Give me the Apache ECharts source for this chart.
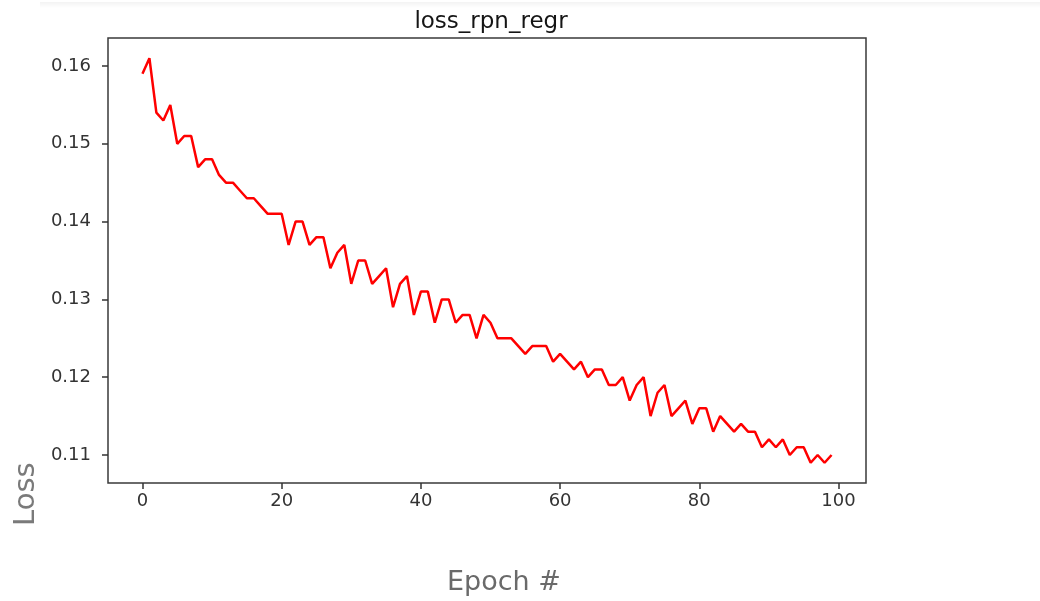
<!DOCTYPE html>
<html>
<head>
<meta charset="utf-8">
<script src="https://cdn.jsdelivr.net/npm/echarts@6/dist/echarts.min.js"></script>
<style>
html,body{margin:0;padding:0;background:#fff;}
#chart{width:1040px;height:601px;}
</style>
</head>
<body>
<div id="chart"></div>
<script>
const epochs = Array.from({length: 100}, (_, i) => i);
const lossRpnRegr = [
  0.159, 0.161, 0.154, 0.153, 0.155, 0.150, 0.151, 0.151, 0.147, 0.148,
  0.148, 0.146, 0.145, 0.145, 0.144, 0.143, 0.143, 0.142, 0.141, 0.141,
  0.141, 0.137, 0.140, 0.140, 0.137, 0.138, 0.138, 0.134, 0.136, 0.137,
  0.132, 0.135, 0.135, 0.132, 0.133, 0.134, 0.129, 0.132, 0.133, 0.128,
  0.131, 0.131, 0.127, 0.130, 0.130, 0.127, 0.128, 0.128, 0.125, 0.128,
  0.127, 0.125, 0.125, 0.125, 0.124, 0.123, 0.124, 0.124, 0.124, 0.122,
  0.123, 0.122, 0.121, 0.122, 0.120, 0.121, 0.121, 0.119, 0.119, 0.120,
  0.117, 0.119, 0.120, 0.115, 0.118, 0.119, 0.115, 0.116, 0.117, 0.114,
  0.116, 0.116, 0.113, 0.115, 0.114, 0.113, 0.114, 0.113, 0.113, 0.111,
  0.112, 0.111, 0.112, 0.110, 0.111, 0.111, 0.109, 0.110, 0.109, 0.110
];
const xTicks = [0, 20, 40, 60, 80, 100];
const yTicks = [0.11, 0.12, 0.13, 0.14, 0.15, 0.16];
const titleText = 'loss_rpn_regr';
const xName = 'Epoch #';
const yName = 'Loss';

const chart = echarts.init(document.getElementById('chart'), null, {renderer: 'canvas'});
const font = 'DejaVu Sans';
chart.setOption({
  animation: false,
  backgroundColor: '#fff',
  title: {
    text: titleText, left: 486, top: 6, textAlign: 'center',
    textStyle: {fontFamily: font, fontSize: 23, fontWeight: 'normal', color: '#151515'}
  },
  graphic: [
    {type: 'rect', shape: {x: 40, y: 2, width: 1000, height: 6},
     style: {fill: {type: 'linear', x: 0, y: 0, x2: 0, y2: 1,
       colorStops: [{offset: 0, color: '#f3f3f3'}, {offset: 1, color: '#ffffff'}]}}, silent: true},
    {type: 'text', left: 447, top: 569,
     style: {text: xName, fontFamily: font, fontSize: 27, fill: '#6a6a6a'}},
    {type: 'text', x: 12, y: 526, rotation: Math.PI / 2,
     style: {text: yName, fontFamily: font, fontSize: 29, fill: '#7a7a7a', textVerticalAlign: 'top'}}
  ],
  grid: {
    left: 108, right: 174, top: 38, bottom: 118,
    show: true, borderColor: '#3a3a3a', borderWidth: 1.5, backgroundColor: 'transparent'
  },
  xAxis: {
    type: 'value', min: -4.95, max: 103.95,
    axisLine: {show: false, onZero: false},
    splitLine: {show: false},
    axisTick: {show: true, customValues: xTicks, length: 6, lineStyle: {color: '#333', width: 1.5}},
    axisLabel: {customValues: xTicks, fontFamily: font, fontSize: 18, color: '#333', margin: 9}
  },
  yAxis: {
    type: 'value', min: 0.1064, max: 0.1636,
    axisLine: {show: false, onZero: false},
    splitLine: {show: false},
    axisTick: {show: true, customValues: yTicks, length: 6, lineStyle: {color: '#333', width: 1.5}},
    axisLabel: {customValues: yTicks, fontFamily: font, fontSize: 18, color: '#333', margin: 17,
      formatter: v => v.toFixed(2)}
  },
  series: [{
    type: 'line',
    data: epochs.map((e, i) => [e, lossRpnRegr[i]]),
    showSymbol: false,
    lineStyle: {color: '#ff0000', width: 2.5},
    itemStyle: {color: '#ff0000'}
  }]
});
</script>
</body>
</html>
